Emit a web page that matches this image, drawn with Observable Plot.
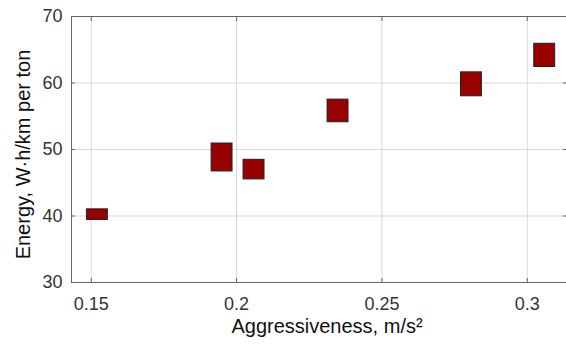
<!DOCTYPE html>
<html><head><meta charset="utf-8">
<script src="https://cdn.jsdelivr.net/npm/d3@7"></script>
<script src="https://cdn.jsdelivr.net/npm/@observablehq/plot@0.6"></script>
<style>body{margin:0;background:#fff;font-family:"Liberation Sans",Arial,sans-serif}</style>
</head><body><div id="chart"></div>
<script>
const aggressiveness = [0.1521, 0.1950, 0.2060, 0.2349, 0.2808, 0.3060];
const energyLow  = [39.4, 46.7, 45.5, 54.1, 58.0, 62.4];
const energyHigh = [41.0, 50.9, 48.45, 57.5, 61.6, 65.9];
const xTicks = [0.15, 0.2, 0.25, 0.3];
const yTicks = [30, 40, 50, 60, 70];
const xDomain = [0.1432, 0.3135];
const yDomain = [30, 70];

const data = aggressiveness.map((x, i) => ({x, lo: energyLow[i], hi: energyHigh[i]}));
const halfW = 0.0036;

const plot = Plot.plot({
  width: 566, height: 350,
  marginTop: 16, marginLeft: 71, marginRight: 0, marginBottom: 68,
  style: {fontFamily: '"Liberation Sans", Arial, sans-serif', fontSize: "18px", color: "#333", background: "#fff"},
  x: {domain: xDomain, ticks: xTicks, label: null},
  y: {domain: yDomain, ticks: yTicks, label: null},
  marks: [
    Plot.gridX(xTicks, {stroke: "#ccc", strokeOpacity: 0.75}),
    Plot.gridY(yTicks, {stroke: "#ccc", strokeOpacity: 0.75}),
    Plot.ruleX([xDomain[0]], {stroke: "#666"}),
    Plot.ruleY([yDomain[0], yDomain[1]], {stroke: "#666"}),
    Plot.axisX(xTicks, {tickSize: -4, tickPadding: 19, stroke: "#666", tickFormat: d => String(d), fill: "#333", fontSize: 18}),
    Plot.axisX(xTicks, {anchor: "top", tickSize: -4, stroke: "#666", tickFormat: () => ""}),
    Plot.axisY(yTicks, {tickSize: -4, tickPadding: 13, stroke: "#666", fill: "#333", fontSize: 18}),
    Plot.axisY(yTicks, {anchor: "right", tickSize: -4, stroke: "#666", tickFormat: () => ""}),
    Plot.rect(data, {x1: d => d.x - halfW, x2: d => d.x + halfW, y1: "lo", y2: "hi", fill: "#990000", stroke: "#222", strokeWidth: 1}),
    Plot.text(["Aggressiveness, m/s²"], {frameAnchor: "bottom", dx: 8, dy: 50, fontSize: 20, fill: "#111"}),
    Plot.text(["Energy, W·h/km per ton"], {frameAnchor: "left", textAnchor: "middle", dx: -48, dy: 5, rotate: -90, fontSize: 20, fill: "#111"})
  ]
});
document.getElementById("chart").appendChild(plot);
</script>
</body></html>
